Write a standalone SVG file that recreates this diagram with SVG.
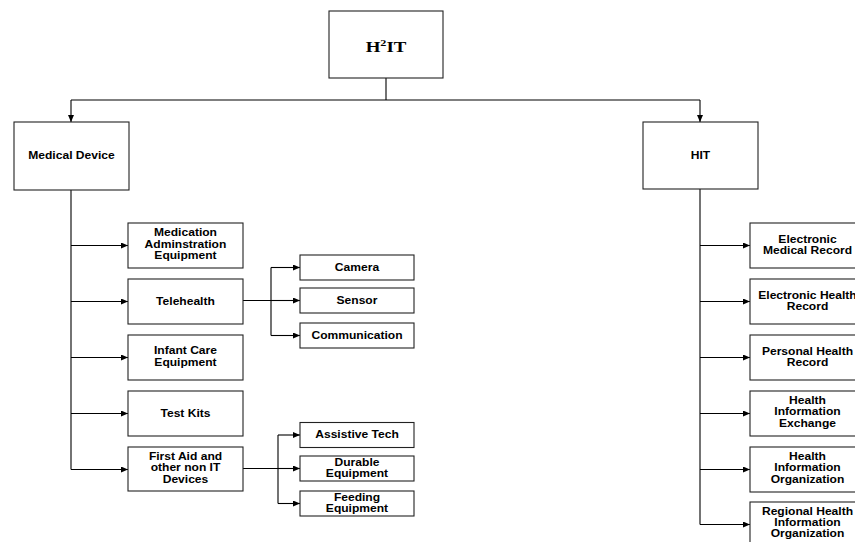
<svg xmlns="http://www.w3.org/2000/svg" width="855" height="542" viewBox="0 0 855 542">
<style>
.box{fill:#fff;stroke:#222;stroke-width:1.1}
.t{font-family:"Liberation Sans",Arial,sans-serif;font-weight:bold;font-size:10.5px;fill:#000;text-anchor:middle}
.ttl{font-family:"Liberation Serif","Times New Roman",serif;font-weight:bold;font-size:14px;fill:#000;text-anchor:middle}
.ln{fill:none;stroke:#000;stroke-width:1.1}
</style>
<defs>
<marker id="ah" markerUnits="userSpaceOnUse" markerWidth="8" markerHeight="6" refX="7" refY="3" orient="auto">
<path d="M0,0 L7,3 L0,6 z" fill="#000"/>
</marker>
</defs>
<rect width="855" height="542" fill="#fff"/>
<g id="connectors">
<path class="ln" d="M386,78 V100 M71,100 H700"/>
<path class="ln" d="M71,100 V122" marker-end="url(#ah)"/>
<path class="ln" d="M700,100 V122" marker-end="url(#ah)"/>
<path class="ln" d="M71,190 V469.5"/>
<path class="ln" d="M71,245.5 H128" marker-end="url(#ah)"/>
<path class="ln" d="M71,301.5 H128" marker-end="url(#ah)"/>
<path class="ln" d="M71,357.5 H128" marker-end="url(#ah)"/>
<path class="ln" d="M71,413.5 H128" marker-end="url(#ah)"/>
<path class="ln" d="M71,469.5 H128" marker-end="url(#ah)"/>
<path class="ln" d="M243,300.5 H271 M271,267.5 V335.5"/>
<path class="ln" d="M271,267.5 H300" marker-end="url(#ah)"/>
<path class="ln" d="M271,300.5 H300" marker-end="url(#ah)"/>
<path class="ln" d="M271,335.5 H300" marker-end="url(#ah)"/>
<path class="ln" d="M243,468.5 H278 M278,435 V503.5"/>
<path class="ln" d="M278,435 H300" marker-end="url(#ah)"/>
<path class="ln" d="M278,468.5 H300" marker-end="url(#ah)"/>
<path class="ln" d="M278,503.5 H300" marker-end="url(#ah)"/>
<path class="ln" d="M700,189 V524.5"/>
<path class="ln" d="M700,245.5 H750" marker-end="url(#ah)"/>
<path class="ln" d="M700,301.5 H750" marker-end="url(#ah)"/>
<path class="ln" d="M700,357.5 H750" marker-end="url(#ah)"/>
<path class="ln" d="M700,413.5 H750" marker-end="url(#ah)"/>
<path class="ln" d="M700,469.5 H750" marker-end="url(#ah)"/>
<path class="ln" d="M700,524.5 H750" marker-end="url(#ah)"/>
</g>
<g id="h2it">
<rect class="box" x="329" y="11" width="114" height="67"/>
<text class="ttl" x="386" y="52" transform="matrix(1.35 0 0 1 -135.1 0)">H<tspan font-size="9" dy="-5.5">2</tspan><tspan dy="5.5">IT</tspan></text>
</g>
<g id="medical-device">
<rect class="box" x="14" y="122" width="115" height="68"/>
<text class="t" x="71.5" y="159.5" transform="matrix(1.15 0 0 1 -10.725 0)">Medical Device</text>
</g>
<g id="hit">
<rect class="box" x="643" y="122" width="115" height="67"/>
<text class="t" x="700.5" y="159" transform="matrix(1.15 0 0 1 -105.075 0)">HIT</text>
</g>
<g id="medication">
<rect class="box" x="128" y="223" width="115" height="45"/>
<text class="t" transform="matrix(1.15 0 0 1 -27.825 0)"><tspan x="185.5" y="236.2">Medication</tspan><tspan x="185.5" y="247.7">Adminstration</tspan><tspan x="185.5" y="259.2">Equipment</tspan></text>
</g>
<g id="telehealth">
<rect class="box" x="128" y="279" width="115" height="45"/>
<text class="t" x="185.5" y="304.8" transform="matrix(1.15 0 0 1 -27.825 0)">Telehealth</text>
</g>
<g id="infant-care">
<rect class="box" x="128" y="335" width="115" height="45"/>
<text class="t" transform="matrix(1.15 0 0 1 -27.825 0)"><tspan x="185.5" y="354.5">Infant Care</tspan><tspan x="185.5" y="365.8">Equipment</tspan></text>
</g>
<g id="test-kits">
<rect class="box" x="128" y="391" width="115" height="45"/>
<text class="t" x="185.5" y="416.8" transform="matrix(1.15 0 0 1 -27.825 0)">Test Kits</text>
</g>
<g id="first-aid">
<rect class="box" x="128" y="447" width="115" height="44"/>
<text class="t" transform="matrix(1.15 0 0 1 -27.825 0)"><tspan x="185.5" y="460">First Aid and</tspan><tspan x="185.5" y="471.3">other non IT</tspan><tspan x="185.5" y="482.6">Devices</tspan></text>
</g>
<g id="camera">
<rect class="box" x="300" y="255" width="114" height="25"/>
<text class="t" x="357" y="271" transform="matrix(1.15 0 0 1 -53.55 0)">Camera</text>
</g>
<g id="sensor">
<rect class="box" x="300" y="288" width="114" height="25"/>
<text class="t" x="357" y="304" transform="matrix(1.15 0 0 1 -53.55 0)">Sensor</text>
</g>
<g id="communication">
<rect class="box" x="300" y="323" width="114" height="25"/>
<text class="t" x="357" y="339" transform="matrix(1.15 0 0 1 -53.55 0)">Communication</text>
</g>
<g id="assistive-tech">
<rect class="box" x="300" y="422.5" width="114" height="25"/>
<text class="t" x="357" y="438.5" transform="matrix(1.15 0 0 1 -53.55 0)">Assistive Tech</text>
</g>
<g id="durable-equipment">
<rect class="box" x="300" y="456" width="114" height="25"/>
<text class="t" transform="matrix(1.15 0 0 1 -53.55 0)"><tspan x="357" y="465.7">Durable</tspan><tspan x="357" y="476.8">Equipment</tspan></text>
</g>
<g id="feeding-equipment">
<rect class="box" x="300" y="491" width="114" height="25"/>
<text class="t" transform="matrix(1.15 0 0 1 -53.55 0)"><tspan x="357" y="500.7">Feeding</tspan><tspan x="357" y="511.8">Equipment</tspan></text>
</g>
<g id="emr">
<rect class="box" x="750" y="223" width="115" height="45"/>
<text class="t" transform="matrix(1.15 0 0 1 -121.125 0)"><tspan x="807.5" y="242.7">Electronic</tspan><tspan x="807.5" y="254">Medical Record</tspan></text>
</g>
<g id="ehr">
<rect class="box" x="750" y="279" width="115" height="45"/>
<text class="t" transform="matrix(1.15 0 0 1 -121.125 0)"><tspan x="807.5" y="298.7">Electronic Health</tspan><tspan x="807.5" y="310">Record</tspan></text>
</g>
<g id="phr">
<rect class="box" x="750" y="335" width="115" height="45"/>
<text class="t" transform="matrix(1.15 0 0 1 -121.125 0)"><tspan x="807.5" y="354.7">Personal Health</tspan><tspan x="807.5" y="366">Record</tspan></text>
</g>
<g id="hie">
<rect class="box" x="750" y="391" width="115" height="45"/>
<text class="t" transform="matrix(1.15 0 0 1 -121.125 0)"><tspan x="807.5" y="404">Health</tspan><tspan x="807.5" y="415.5">Information</tspan><tspan x="807.5" y="427">Exchange</tspan></text>
</g>
<g id="hio">
<rect class="box" x="750" y="447" width="115" height="45"/>
<text class="t" transform="matrix(1.15 0 0 1 -121.125 0)"><tspan x="807.5" y="460">Health</tspan><tspan x="807.5" y="471.5">Information</tspan><tspan x="807.5" y="483">Organization</tspan></text>
</g>
<g id="rhio">
<rect class="box" x="750" y="502" width="115" height="45"/>
<text class="t" transform="matrix(1.15 0 0 1 -121.125 0)"><tspan x="807.5" y="515.5">Regional Health</tspan><tspan x="807.5" y="526.5">Information</tspan><tspan x="807.5" y="537.5">Organization</tspan></text>
</g>
</svg>
